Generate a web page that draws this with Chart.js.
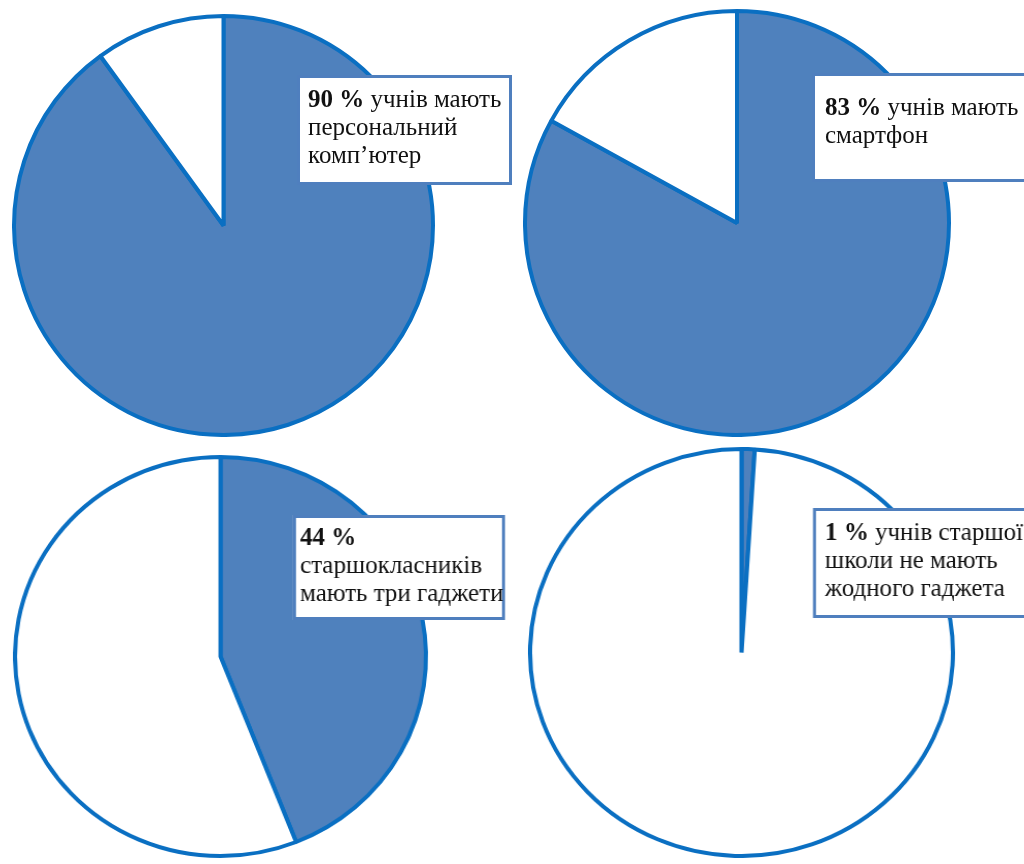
<!DOCTYPE html>
<html>
<head>
<meta charset="utf-8">
<script src="https://cdn.jsdelivr.net/npm/chart.js@4"></script>
<style>
  html, body { margin: 0; padding: 0; background: #fff; width: 1024px; height: 864px; overflow: hidden; }
  .pie { position: absolute; }
  .pie canvas { display: block; }
</style>
</head>
<body>
<div class="pie" id="p0"><canvas id="c0"></canvas></div>
<div class="pie" id="p1"><canvas id="c1"></canvas></div>
<div class="pie" id="p2"><canvas id="c2"></canvas></div>
<div class="pie" id="p3"><canvas id="c3"></canvas></div>

<script>
// share of pupils (%) for each statement, and the remainder
const topics = ['персональний комп’ютер', 'смартфон', 'три гаджети', 'жодного гаджета'];
const shareYes = [90, 83, 44, 1];
const shareRest = [10, 17, 56, 99];
const sliceLabels = ['так', 'інші'];

// caption text: first line follows the bold "NN %"
const captionLines = [
  [' учнів мають', 'персональний', 'комп’ютер'],
  [' учнів мають', 'смартфон'],
  ['', 'старшокласників', 'мають три гаджети'],
  [' учнів старшої', 'школи не мають', 'жодного гаджета']
];

const fillBlue = '#4f81bd';
const edgeBlue = '#0a6fc2';

// placement on the page (px): pie box, horizontal stretch, caption box
const frames = [
  { left: 12,  top: 14,  size: 423, sx: 1,     width: 505, box: { left: 297, top: 75,  w: 215, h: 110, padX: 11, base: 32 } },
  { left: 523, top: 9,   size: 428, sx: 1,     width: 501, box: { left: 812, top: 73,  w: 240, h: 109, padX: 13, base: 42 } },
  { left: 19,  top: 455, size: 403, sx: 1.03,  width: 480, box: { left: 293, top: 515, w: 212, h: 105, padX: 7,  base: 30 } },
  { left: 536, top: 447, size: 411, sx: 1.039, width: 478, box: { left: 813, top: 508, w: 240, h: 110, padX: 12, base: 32 } }
];

function makeCallout(i) {
  const f = frames[i];
  const b = f.box;
  return {
    id: 'callout' + i,
    afterDraw(chart) {
      const c = chart.ctx;
      const o = f.size / 2;
      c.save();
      c.translate(o + (b.left - f.left - o) / f.sx, b.top - f.top);
      c.scale(1 / f.sx, 1);
      c.fillStyle = '#ffffff';
      c.fillRect(0, 0, b.w, b.h);
      c.lineWidth = 3;
      c.strokeStyle = '#4f7fbe';
      c.strokeRect(1.5, 1.5, b.w - 3, b.h - 3);
      c.fillStyle = '#111111';
      c.textBaseline = 'alphabetic';
      captionLines[i].forEach(function (text, k) {
        let tx = b.padX;
        const ty = b.base + k * 28;
        if (k === 0) {
          c.font = 'bold 25px "Liberation Serif"';
          const pct = shareYes[i] + ' %';
          c.fillText(pct, tx, ty);
          tx += c.measureText(pct).width;
        }
        c.font = '25px "Liberation Serif"';
        c.fillText(text, tx, ty);
      });
      c.restore();
    }
  };
}

topics.forEach(function (topic, i) {
  const f = frames[i];
  const wrap = document.getElementById('p' + i);
  wrap.style.left = f.left + 'px';
  wrap.style.top = f.top + 'px';
  wrap.style.transformOrigin = (f.size / 2) + 'px ' + (f.size / 2) + 'px';
  wrap.style.transform = 'scaleX(' + f.sx + ')';
  const canvas = document.getElementById('c' + i);
  canvas.width = f.width;
  canvas.height = f.size;

  new Chart(canvas.getContext('2d'), {
    type: 'pie',
    data: {
      labels: sliceLabels,
      datasets: [{
        label: topic,
        data: [shareYes[i], shareRest[i]],
        backgroundColor: [fillBlue, '#ffffff'],
        borderColor: edgeBlue,
        borderWidth: 4
      }]
    },
    options: {
      responsive: false,
      animation: false,
      layout: { padding: { left: 0, top: 0, bottom: 0, right: f.width - f.size } },
      plugins: {
        legend: { display: false },
        tooltip: { enabled: false }
      }
    },
    plugins: [makeCallout(i)]
  });
});
</script>
</body>
</html>
